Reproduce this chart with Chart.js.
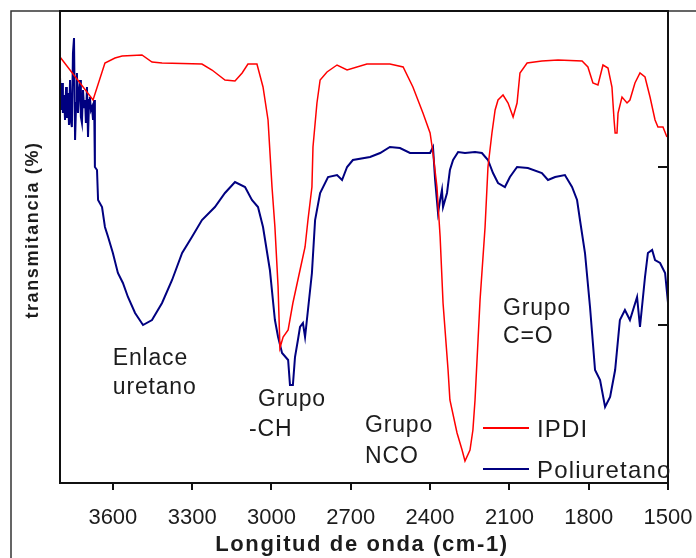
<!DOCTYPE html>
<html>
<head>
<meta charset="utf-8">
<script src="https://cdn.jsdelivr.net/npm/chart.js@4"></script>
<style>
  html, body { margin: 0; padding: 0; background: #fff; }
</style>
</head>
<body>
<canvas id="myChart" width="696" height="558"></canvas>
<script>
// espectro IR: numero de onda (cm-1) y transmitancia
const ipdiWavenumber = [3800, 3675, 3630, 3592, 3565, 3490, 3452, 3414, 3263, 3225, 3176, 3138, 3111, 3089, 3055, 3032, 3013, 2998, 2987, 2975, 2968, 2956, 2937, 2919, 2892, 2873, 2862, 2847, 2843, 2828, 2816, 2790, 2752, 2714, 2639, 2552, 2502, 2465, 2427, 2400, 2389, 2374, 2362, 2351, 2332, 2325, 2298, 2279, 2268, 2249, 2238, 2230, 2211, 2192, 2181, 2166, 2154, 2143, 2124, 2105, 2086, 2071, 2060, 2033, 1977, 1916, 1825, 1803, 1784, 1765, 1746, 1727, 1712, 1704, 1700, 1693, 1689, 1674, 1655, 1644, 1625, 1606, 1587, 1568, 1549, 1538, 1519, 1504];
const ipdiTransmittance = [85.2, 76.6, 84.0, 85.0, 85.4, 85.6, 84.2, 84.0, 83.8, 82.6, 80.6, 80.4, 82.0, 83.8, 83.8, 79.2, 72.6, 59.2, 51.2, 39.2, 27.0, 29.2, 30.6, 36.0, 42.6, 47.2, 52.6, 59.2, 67.2, 76.0, 80.6, 82.2, 83.6, 82.6, 83.8, 83.8, 83.2, 79.2, 74.0, 70.0, 66.0, 59.2, 49.2, 36.0, 22.6, 16.6, 10.0, 6.6, 4.4, 6.6, 10.6, 16.6, 36.6, 51.2, 63.2, 70.0, 74.6, 76.6, 77.6, 76.0, 73.2, 76.0, 82.0, 84.0, 84.4, 84.6, 84.4, 83.2, 80.0, 79.6, 83.6, 83.0, 79.2, 72.6, 70.0, 70.0, 74.0, 77.2, 76.0, 76.6, 80.0, 82.0, 81.2, 77.2, 72.6, 71.2, 71.2, 69.2];

const puWavenumber = [3800, 3796, 3792, 3789, 3785, 3781, 3777, 3774, 3770, 3766, 3762, 3758, 3755, 3751, 3747, 3743, 3739, 3736, 3732, 3728, 3724, 3721, 3717, 3713, 3709, 3705, 3702, 3698, 3694, 3690, 3687, 3683, 3679, 3675, 3671, 3668, 3660, 3656, 3641, 3630, 3618, 3600, 3581, 3562, 3543, 3516, 3486, 3452, 3414, 3376, 3338, 3301, 3263, 3214, 3176, 3138, 3100, 3074, 3051, 3032, 3006, 2987, 2975, 2960, 2937, 2930, 2919, 2911, 2900, 2892, 2881, 2873, 2862, 2847, 2835, 2816, 2786, 2752, 2733, 2714, 2692, 2627, 2589, 2552, 2514, 2476, 2400, 2389, 2381, 2370, 2362, 2355, 2351, 2336, 2325, 2313, 2294, 2268, 2230, 2204, 2181, 2162, 2143, 2117, 2098, 2071, 2030, 1977, 1954, 1927, 1890, 1863, 1844, 1833, 1814, 1795, 1776, 1757, 1738, 1719, 1700, 1682, 1663, 1644, 1617, 1606, 1587, 1576, 1560, 1549, 1530, 1511, 1500];
const puTransmittance = [81.2, 74.6, 80.0, 74.0, 77.6, 72.6, 79.2, 73.0, 78.0, 71.6, 80.6, 72.0, 71.2, 86.0, 89.0, 68.6, 76.0, 82.0, 74.0, 78.6, 80.6, 73.2, 72.0, 78.6, 75.0, 76.6, 72.0, 79.2, 69.2, 76.6, 77.2, 74.6, 75.2, 72.6, 76.6, 63.2, 62.6, 56.6, 55.2, 51.2, 49.2, 46.0, 42.0, 40.0, 37.2, 34.0, 31.6, 32.6, 36.0, 40.6, 46.0, 49.2, 52.6, 55.2, 58.0, 60.2, 59.2, 56.6, 55.2, 51.2, 42.6, 32.6, 29.2, 26.0, 24.6, 19.6, 19.6, 25.2, 28.6, 31.2, 32.0, 29.2, 34.6, 42.0, 52.6, 58.0, 61.2, 61.6, 60.6, 63.2, 64.6, 65.2, 66.0, 67.2, 67.0, 66.0, 66.0, 67.2, 60.6, 54.0, 56.6, 58.6, 55.2, 58.0, 62.6, 64.6, 66.2, 66.0, 66.2, 66.0, 64.6, 62.0, 60.0, 59.2, 61.2, 63.2, 63.0, 62.0, 60.6, 61.2, 61.6, 59.2, 56.6, 52.6, 46.0, 35.2, 22.6, 20.6, 15.2, 17.2, 22.6, 32.6, 34.6, 32.6, 37.2, 31.2, 41.2, 46.0, 46.6, 44.6, 44.0, 42.0, 36.0];

const xTicks = [3600, 3300, 3000, 2700, 2400, 2100, 1800, 1500];
const yTicks = [31.6, 63.2];

// etiquetas de grupos funcionales (numero de onda, transmitancia)
const notes = [
  { text: 'Enlace', x: 3600, y: 23.6 },
  { text: 'uretano', x: 3600, y: 17.8 },
  { text: 'Grupo', x: 3051, y: 15.4 },
  { text: '-CH', x: 3085, y: 9.4 },
  { text: 'Grupo', x: 2646, y: 10.2 },
  { text: 'NCO', x: 2646, y: 4.0 },
  { text: 'Grupo', x: 2124, y: 33.6 },
  { text: 'C=O', x: 2124, y: 28.0 }
];

const ink = '#1c1c1c';

const extras = {
  id: 'extras',
  afterDraw(chart) {
    const c = chart.ctx;
    const a = chart.chartArea;
    const sx = chart.scales.x, sy = chart.scales.y;
    c.save();
    // marco exterior
    c.strokeStyle = '#333';
    c.lineWidth = 1.5;
    c.beginPath();
    c.moveTo(11, 558); c.lineTo(11, 11); c.lineTo(696, 11);
    c.stroke();
    // marco del grafico
    c.strokeStyle = '#111';
    c.lineWidth = 2;
    c.strokeRect(a.left, a.top, a.right - a.left, a.bottom - a.top);
    // marcas del eje derecho
    yTicks.forEach(v => {
      const py = sy.getPixelForValue(v);
      c.beginPath();
      c.moveTo(a.right, py); c.lineTo(a.right - 10, py);
      c.stroke();
    });
    // anotaciones
    c.fillStyle = ink;
    c.font = '23px "Liberation Sans", Arial, sans-serif';
    c.letterSpacing = '0.8px';
    c.textBaseline = 'alphabetic';
    c.textAlign = 'left';
    notes.forEach(n => {
      c.fillText(n.text, sx.getPixelForValue(n.x), sy.getPixelForValue(n.y));
    });
    // leyenda
    c.font = '24px "Liberation Sans", Arial, sans-serif';
    c.letterSpacing = '1.2px';
    chart.data.datasets.forEach((ds, i) => {
      const ly = 428 + i * 41;
      c.strokeStyle = ds.borderColor;
      c.lineWidth = 2;
      c.beginPath();
      c.moveTo(483, ly); c.lineTo(529, ly);
      c.stroke();
      c.fillStyle = ink;
      c.fillText(ds.label, 537, ly + 9);
    });
    // titulos de ejes
    c.fillStyle = ink;
    c.font = 'bold 22px "Liberation Sans", Arial, sans-serif';
    c.letterSpacing = '1.6px';
    c.textAlign = 'center';
    c.fillText('Longitud de onda (cm-1)', 362, 551);
    c.translate(38, 230);
    c.rotate(-Math.PI / 2);
    c.font = 'bold 18px "Liberation Sans", Arial, sans-serif';
    c.fillText('transmitancia (%)', 0, 0);
    c.restore();
  }
};

const ctx = document.getElementById('myChart');

new Chart(ctx, {
  type: 'line',
  data: {
    datasets: [{
      label: 'IPDI',
      data: ipdiWavenumber.map((w, i) => ({ x: w, y: ipdiTransmittance[i] })),
      borderColor: '#ff0000',
      borderWidth: 1.5,
      pointRadius: 0,
      tension: 0
    }, {
      label: 'Poliuretano',
      data: puWavenumber.map((w, i) => ({ x: w, y: puTransmittance[i] })),
      borderColor: '#000080',
      borderWidth: 2,
      pointRadius: 0,
      tension: 0
    }]
  },
  options: {
    responsive: false,
    animation: false,
    layout: { padding: { top: 11, right: 28, left: 0, bottom: 0 } },
    plugins: {
      legend: { display: false },
      tooltip: { enabled: false }
    },
    scales: {
      x: {
        type: 'linear',
        reverse: true,
        min: 1500,
        max: 3800,
        afterBuildTicks: s => { s.ticks = xTicks.map(v => ({ value: v })); },
        afterFit: s => { s.height = 75; s.paddingLeft = 0; s.paddingRight = 0; },
        ticks: {
          color: ink,
          padding: 15,
          maxRotation: 0,
          autoSkip: false,
          callback: v => String(v),
          font: { family: '"Liberation Sans", Arial, sans-serif', size: 22 }
        },
        grid: { drawOnChartArea: false, tickLength: 7, color: '#111', lineWidth: 2 },
        border: { display: false }
      },
      y: {
        min: 0,
        max: 94.4,
        afterFit: s => { s.width = 60; s.paddingTop = 0; s.paddingBottom = 0; },
        ticks: { display: false },
        grid: { display: false },
        border: { display: false }
      }
    }
  },
  plugins: [extras]
});
</script>
</body>
</html>
